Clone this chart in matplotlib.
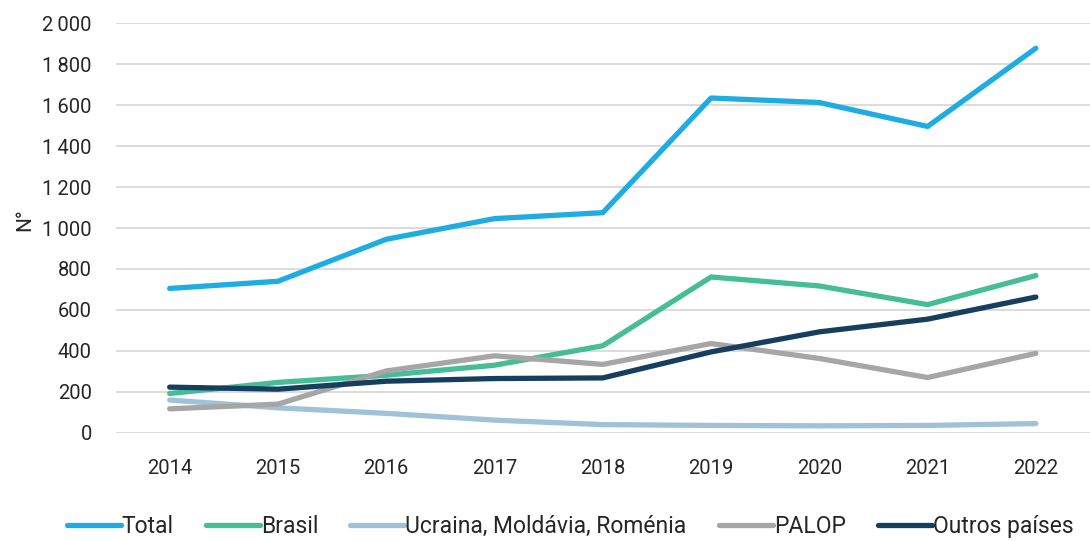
import matplotlib.pyplot as plt
from matplotlib.ticker import FuncFormatter

# dados
anos = ["2014", "2015", "2016", "2017", "2018", "2019", "2020", "2021", "2022"]
total = [705, 740, 945, 1046, 1075, 1635, 1613, 1496, 1878]
brasil = [192, 246, 281, 330, 425, 761, 717, 626, 768]
ucraina = [160, 122, 95, 62, 40, 36, 34, 36, 45]
palop = [117, 140, 302, 376, 334, 436, 363, 270, 388]
outros = [223, 213, 252, 265, 268, 395, 493, 555, 663]

series = [
    ("Total", total, "#1eade3"),
    ("Brasil", brasil, "#45bd97"),
    ("Ucraina, Moldávia, Roménia", ucraina, "#a0c2d9"),
    ("PALOP", palop, "#a6a6a6"),
    ("Outros países", outros, "#163f5e"),
]

plt.rcParams['font.family'] = ['Roboto', 'DejaVu Sans']

fig = plt.figure(figsize=(10.9, 5.41), dpi=100)
ax = fig.add_axes([0.106, 0.2, 0.894, 0.757])

x = range(len(anos))
for nome, vals, cor in series:
    ax.plot(x, vals, color=cor, lw=3.8, label=nome,
            solid_capstyle='round', solid_joinstyle='round')

ax.set_xlim(-0.5, len(anos) - 0.5)
ax.set_ylim(0, 2000)
ax.set_yticks(range(0, 2001, 200))
ax.yaxis.set_major_formatter(FuncFormatter(
    lambda v, p: f"{int(v):,}".replace(",", "\u2009")))
ax.set_xticks(list(x))
ax.set_xticklabels(anos)

ax.grid(axis='y', color='#d9d9d9', lw=1.3)
ax.set_axisbelow(True)
for s in ax.spines.values():
    s.set_visible(False)
ax.tick_params(length=0, labelsize=14.5, colors='#262626')
ax.tick_params(axis='y', pad=17)
ax.tick_params(axis='x', pad=19)

ax.set_ylabel("N°", fontsize=15, color='#262626', labelpad=2)
ax.yaxis.set_label_coords(-0.083, 0.52)

fig.legend(loc='lower center', bbox_to_anchor=(0.523, -0.032), ncol=5,
           frameon=False, fontsize=16.5, handlelength=2.35,
           handletextpad=0.05, columnspacing=1.4, labelcolor='#262626')

fig.savefig("out.png", dpi=100)
